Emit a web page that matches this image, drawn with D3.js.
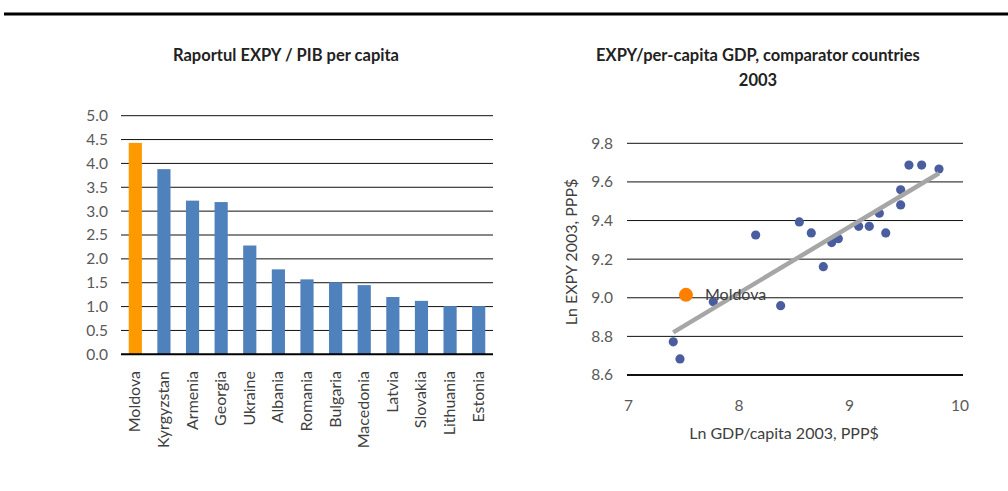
<!DOCTYPE html>
<html><head><meta charset="utf-8">
<script src="https://cdn.jsdelivr.net/npm/d3@7"></script>
<style>
html,body{margin:0;padding:0;background:#fff;}
svg{display:block;}
text{font-family:Lato,"Open Sans",sans-serif;}
</style></head><body>
<svg id="c" width="1008" height="491"></svg>
<script>
// ---- Bar chart data ----
const countries = ["Moldova","Kyrgyzstan","Armenia","Georgia","Ukraine","Albania","Romania","Bulgaria","Macedonia","Latvia","Slovakia","Lithuania","Estonia"];
const ratios = [4.43,3.88,3.22,3.19,2.28,1.78,1.57,1.51,1.45,1.20,1.12,1.01,1.01];
const barTicks = [0,0.5,1,1.5,2,2.5,3,3.5,4,4.5,5];

// ---- Scatter data ----
const lnGdp  = [7.405,7.466,7.767,8.151,8.377,8.546,8.654,8.763,8.839,8.899,9.083,9.179,9.270,9.328,9.463,9.463,9.538,9.653,9.810];
const lnExpy = [8.772,8.683,8.980,9.325,8.959,9.393,9.336,9.161,9.286,9.306,9.370,9.370,9.438,9.336,9.559,9.481,9.687,9.687,9.667];
const moldovaPoint = [7.520, 9.015];
const trendX = [7.405, 9.810];
const trendY = [8.821, 9.645];
const scatterXTicks = [7,8,9,10];
const scatterYTicks = [8.6,8.8,9.0,9.2,9.4,9.6,9.8];

const svg = d3.select("#c");

// top rule
svg.append("line").attr("x1",4).attr("x2",1008).attr("y1",14).attr("y2",14)
  .attr("stroke","#000").attr("stroke-width",3);

// ===== Bar chart =====
const bx = d3.scaleBand().domain(countries).range([121,493]).paddingInner(0.54).paddingOuter(0.27);
const by = d3.scaleLinear().domain([0,5]).range([354.3,115.7]);

svg.append("text").attr("x",286).attr("y",61).attr("text-anchor","middle")
  .attr("font-weight","bold").attr("font-size",16.5).attr("fill","#222")
  .text("Raportul EXPY / PIB per capita");

const gB = svg.append("g");
gB.selectAll("line.grid").data(barTicks.slice(1)).join("line")
  .attr("x1",121).attr("x2",493).attr("y1",d=>by(d)).attr("y2",d=>by(d))
  .attr("stroke","#111").attr("stroke-width",1);
gB.selectAll("text.yt").data(barTicks).join("text")
  .attr("x",108).attr("y",d=>by(d)).attr("dy","0.35em").attr("text-anchor","end")
  .attr("font-size",15.5).attr("fill","#595959").text(d=>d3.format(".1f")(d));
gB.selectAll("rect").data(countries).join("rect")
  .attr("x",d=>bx(d)).attr("width",bx.bandwidth())
  .attr("y",(d,i)=>by(ratios[i])).attr("height",(d,i)=>by(0)-by(ratios[i]))
  .attr("fill",(d,i)=>i===0?"#FF9900":"#4F81BD");
gB.append("line").attr("x1",121).attr("x2",493).attr("y1",by(0)).attr("y2",by(0))
  .attr("stroke","#000").attr("stroke-width",2);
gB.selectAll("text.cat").data(countries).join("text")
  .attr("transform",d=>`translate(${bx(d)+bx.bandwidth()/2+5},371) rotate(-90)`)
  .attr("text-anchor","end").attr("font-size",16).attr("fill","#404040").text(d=>d);

// ===== Scatter =====
const sx = d3.scaleLinear().domain([7,10]).range([628.5,960]);
const sy = d3.scaleLinear().domain([8.6,9.8]).range([375,143.3]);

svg.append("text").attr("x",758).attr("y",61).attr("text-anchor","middle")
  .attr("font-weight","bold").attr("font-size",16.5).attr("fill","#222")
  .text("EXPY/per-capita GDP, comparator countries");
svg.append("text").attr("x",758).attr("y",86).attr("text-anchor","middle")
  .attr("font-weight","bold").attr("font-size",16.5).attr("fill","#222").text("2003");

const gS = svg.append("g");
gS.selectAll("line.grid").data(scatterYTicks).join("line")
  .attr("x1",627).attr("x2",963).attr("y1",d=>sy(d)).attr("y2",d=>sy(d))
  .attr("stroke","#111").attr("stroke-width",(d,i)=>i===0?2:1);
gS.selectAll("text.yt").data(scatterYTicks).join("text")
  .attr("x",613).attr("y",d=>sy(d)).attr("dy","0.35em").attr("text-anchor","end")
  .attr("font-size",15.5).attr("fill","#595959").text(d=>d3.format(".1f")(d));
gS.selectAll("text.xt").data(scatterXTicks).join("text")
  .attr("x",d=>sx(d)).attr("y",411).attr("text-anchor","middle")
  .attr("font-size",15.5).attr("fill","#595959").text(d=>d);
gS.append("text").attr("x",784).attr("y",439).attr("text-anchor","middle")
  .attr("font-size",16).attr("fill","#404040").text("Ln GDP/capita 2003, PPP$");
gS.append("text").attr("transform","translate(577,252) rotate(-90)").attr("text-anchor","middle")
  .attr("font-size",16).attr("fill","#404040").text("Ln EXPY 2003, PPP$");

gS.selectAll("circle.pt").data(lnGdp).join("circle")
  .attr("cx",d=>sx(d)).attr("cy",(d,i)=>sy(lnExpy[i])).attr("r",4.6)
  .attr("fill","#4A5D9E");
gS.append("line").attr("x1",sx(trendX[0])).attr("y1",sy(trendY[0]))
  .attr("x2",sx(trendX[1])).attr("y2",sy(trendY[1]))
  .attr("stroke","#A6A6A6").attr("stroke-width",4.5);
gS.append("circle").attr("cx",sx(moldovaPoint[0])).attr("cy",sy(moldovaPoint[1])).attr("r",7)
  .attr("fill","#FF7F00");
gS.append("text").attr("x",sx(moldovaPoint[0])+19).attr("y",sy(moldovaPoint[1])).attr("dy","0.35em")
  .attr("font-size",16).attr("fill","#404040").text("Moldova");
</script></body></html>
